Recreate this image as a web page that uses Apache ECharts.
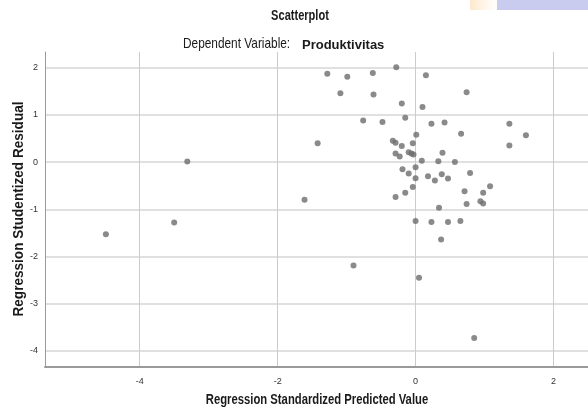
<!DOCTYPE html>
<html>
<head>
<meta charset="utf-8">
<script src="https://cdn.jsdelivr.net/npm/echarts@6/dist/echarts.min.js"></script>
<style>
  html, body { margin: 0; padding: 0; background: #fff; }
  #chart { width: 588px; height: 411px; }
</style>
</head>
<body>
<div id="chart"></div>
<script>
// standardized predicted value (x)
var predicted = [
  -1.28, -0.99, -0.62, -0.28, 0.15, -1.09, -0.61, 0.74, -0.20, 0.10,
  -0.76, -0.48, -0.15, 0.23, 0.42, 1.36, 0.66, 1.60, -1.42, 0.01,
  -0.33, -0.29, -0.20, -0.04, 1.36, -0.29, -0.23, -0.10, -0.06, -0.03,
  0.39, 0.09, 0.33, 0.57, -0.19, 0.00, -0.10, 0.79, 0.00, 0.18,
  0.28, 0.38, 0.47, 1.08, -0.04, 0.71, 0.98, -1.61, -0.29, -0.15,
  0.74, 0.94, 0.98, 0.34, 0.00, 0.23, 0.47, 0.65, 0.37, -0.90,
  0.05, 0.85, -3.31, -4.49, -3.50
];
// studentized residual (y)
var residual = [
  1.87, 1.81, 1.89, 2.01, 1.84, 1.46, 1.43, 1.48, 1.24, 1.17,
  0.88, 0.85, 0.94, 0.81, 0.84, 0.81, 0.60, 0.57, 0.40, 0.58,
  0.45, 0.41, 0.34, 0.40, 0.35, 0.18, 0.12, 0.21, 0.18, 0.16,
  0.20, 0.03, 0.02, 0.00, -0.15, -0.11, -0.24, -0.23, -0.34, -0.30,
  -0.39, -0.26, -0.35, -0.51, -0.53, -0.62, -0.65, -0.80, -0.74, -0.65,
  -0.89, -0.83, -0.88, -0.97, -1.25, -1.27, -1.27, -1.25, -1.64, -2.19,
  -2.45, -3.73, 0.01, -1.53, -1.28
];
var xTicks = [-4, -2, 0, 2];
var yTicks = [-4, -3, -2, -1, 0, 1, 2];

var points = [];
for (var i = 0; i < predicted.length; i++) {
  points.push([predicted[i], residual[i]]);
}

var font = '"Liberation Sans", Arial, sans-serif';

// 窄体文字（SPSS 用的是 Arial Narrow 一类）
var narrowText = function (txt, x, y, size, bold, sx, align, rot) {
  return {
    type: 'text', x: x, y: y, scaleX: sx, rotation: rot || 0,
    style: {
      text: txt, fontFamily: font, fontSize: size,
      fontWeight: bold ? 'bold' : 'normal', fill: '#1a1a1a',
      align: align, verticalAlign: 'middle'
    }
  };
};

var chart = echarts.init(document.getElementById('chart'));
chart.setOption({
  backgroundColor: '#fff',
  animation: false,
  graphic: [
    {
      type: 'rect', shape: { x: 470, y: 0, width: 28, height: 10 },
      style: {
        fill: new echarts.graphic.LinearGradient(0, 0, 1, 0, [
          { offset: 0, color: '#fde8cc' },
          { offset: 0.6, color: '#fff8ef' },
          { offset: 1, color: '#ffffff' }
        ])
      }
    },
    { type: 'rect', shape: { x: 497, y: 0, width: 91, height: 10 }, style: { fill: '#c9cbef' } },
    narrowText('Scatterplot', 300, 16, 14, true, 0.79, 'center'),
    narrowText('Dependent Variable:', 183, 44, 15, false, 0.79, 'left'),
    narrowText('Produktivitas', 302, 45, 13, true, 1, 'left'),
    narrowText('Regression Standardized Predicted Value', 317, 400, 14, true, 0.805, 'center'),
    narrowText('Regression Studentized Residual', 19, 209, 14, true, 0.97, 'center', Math.PI / 2)
  ],
  grid: { left: 45, top: 52, right: -12, bottom: 44 },
  xAxis: {
    type: 'value',
    min: -5.373, max: 2.5,
    axisLine: { show: true, onZero: false, lineStyle: { color: '#9a9a9a', width: 2 } },
    axisTick: { show: false, customValues: xTicks },
    axisLabel: { customValues: xTicks, fontSize: 9, color: '#333', margin: 10, fontFamily: font },
    splitLine: { show: true, lineStyle: { color: '#cccccc', width: 1 } }
  },
  yAxis: {
    type: 'value',
    min: -4.342, max: 2.333,
    axisLine: { show: true, onZero: false, lineStyle: { color: '#9a9a9a', width: 1 } },
    axisTick: { show: false, customValues: yTicks },
    axisLabel: { customValues: yTicks, fontSize: 9, color: '#333', margin: 7, fontFamily: font },
    splitLine: { show: true, lineStyle: { color: '#d6d6d6', width: 1.5 } }
  },
  series: [{
    type: 'scatter',
    data: points,
    symbol: 'circle',
    symbolSize: 6,
    itemStyle: { color: '#6d6d6d' }
  }]
});
</script>
</body>
</html>
